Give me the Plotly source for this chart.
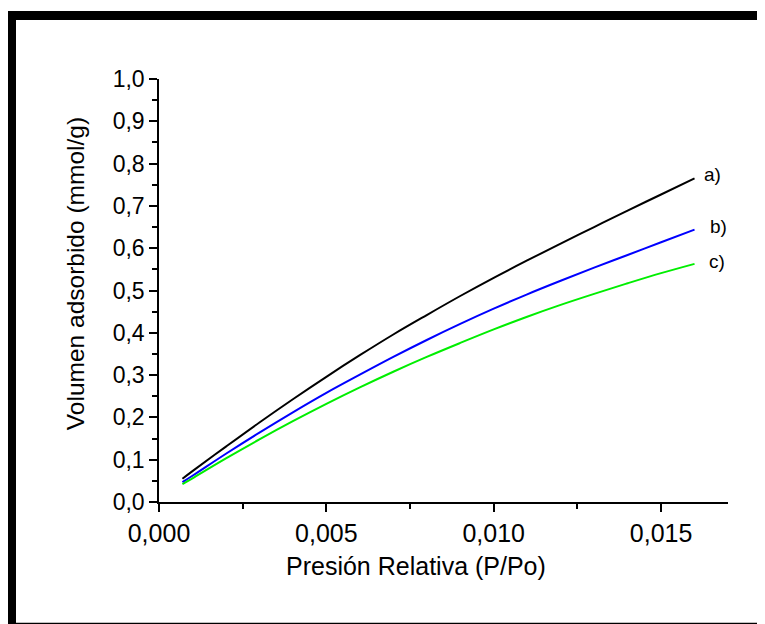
import plotly.graph_objects as go

# Data
presion = [0.0007, 0.001, 0.002, 0.003, 0.004, 0.005, 0.006, 0.007, 0.008,
           0.009, 0.010, 0.011, 0.012, 0.013, 0.014, 0.015, 0.016]
serie_a = [0.055, 0.073, 0.131, 0.188, 0.243, 0.296, 0.347, 0.396, 0.442,
           0.487, 0.530, 0.571, 0.611, 0.650, 0.689, 0.727, 0.765]
serie_b = [0.047, 0.062, 0.114, 0.164, 0.212, 0.258, 0.301, 0.343, 0.383,
           0.421, 0.457, 0.491, 0.523, 0.554, 0.584, 0.614, 0.644]
serie_c = [0.042, 0.056, 0.103, 0.148, 0.191, 0.232, 0.271, 0.308, 0.343,
           0.376, 0.408, 0.438, 0.466, 0.492, 0.517, 0.541, 0.563]
etiquetas = ["a)", "b)", "c)"]
titulo_x = "Presión Relativa (P/Po)"
titulo_y = "Volumen adsorbido (mmol/g)"
colores = ["#000000", "#0000ff", "#00ee00"]

# page body has an 8px margin, so the figure is offset by 8px
OFF = 8
W, H = 765 - OFF, 624 - OFF
ML = 159 - OFF
MT = 79 - OFF
MR = 765 - 728
MB = H - (501.7 - OFF)
pw, ph = W - ML - MR, H - MT - MB


def px(x):
    return (x - OFF - ML) / pw


def py(y):
    return (H - MB - (y - OFF)) / ph


FONT = "Liberation Sans, Arial, sans-serif"

fig = go.Figure()
for ys, col in zip([serie_a, serie_b, serie_c], colores):
    fig.add_trace(go.Scatter(x=presion, y=ys, mode="lines",
                             line=dict(color=col, width=2, shape="spline", smoothing=1),
                             showlegend=False, hoverinfo="skip"))

lab_y = [0.774, 0.652, 0.569]
lab_x = [0.01623, 0.0164, 0.01638]
for t, xx, yy in zip(etiquetas, lab_x, lab_y):
    fig.add_annotation(x=xx, y=yy, text=t, showarrow=False, xanchor="left",
                       yanchor="middle", font=dict(family=FONT, size=19, color="black"))

# axis titles (placed as in the reference, slightly off-centre)
fig.add_annotation(xref="paper", yref="paper", x=px(416), y=py(566), text=titulo_x,
                   showarrow=False, xanchor="center", yanchor="middle",
                   font=dict(family=FONT, size=25, color="black"))
fig.add_annotation(xref="paper", yref="paper", x=px(75), y=py(274), text=titulo_y,
                   showarrow=False, xanchor="center", yanchor="middle", textangle=-90,
                   font=dict(family=FONT, size=24.5, color="black"))

# frame decorations
fig.add_shape(type="rect", xref="paper", yref="paper", x0=px(7), x1=px(766), y0=py(20), y1=py(11),
              fillcolor="black", line=dict(width=0), layer="above")
fig.add_shape(type="rect", xref="paper", yref="paper", x0=px(7), x1=px(16), y0=py(625), y1=py(11),
              fillcolor="black", line=dict(width=0), layer="above")
fig.add_shape(type="line", xref="paper", yref="paper", x0=px(7), x1=px(766), y0=py(623), y1=py(623),
              line=dict(color="black", width=1.5), layer="above")

fig.update_xaxes(range=[0, 0.017], showline=True, linecolor="black", linewidth=1.5,
                 ticks="outside", ticklen=8, tickwidth=1.5, tickcolor="black",
                 tickvals=[0, 0.005, 0.010, 0.015], tickformat=".3f",
                 minor=dict(ticks="outside", ticklen=5, tickwidth=1.5, tickcolor="black",
                            tickvals=[0.0025, 0.0075, 0.0125]),
                 showgrid=False, zeroline=False,
                 tickfont=dict(family=FONT, size=25, color="black"))
fig.update_yaxes(range=[0, 1.0], showline=True, linecolor="black", linewidth=1.5,
                 ticks="outside", ticklen=8, tickwidth=1.5, tickcolor="black",
                 tickvals=[i / 10 for i in range(11)], tickformat=".1f",
                 minor=dict(ticks="outside", ticklen=5, tickwidth=1.5, tickcolor="black",
                            tickvals=[i / 10 + 0.05 for i in range(10)]),
                 showgrid=False, zeroline=False,
                 tickfont=dict(family=FONT, size=23, color="black"))

fig.update_layout(width=W, height=H, margin=dict(l=ML, r=MR, t=MT, b=MB),
                  paper_bgcolor="white", plot_bgcolor="white", separators=",.")

fig.write_html("out.html")
